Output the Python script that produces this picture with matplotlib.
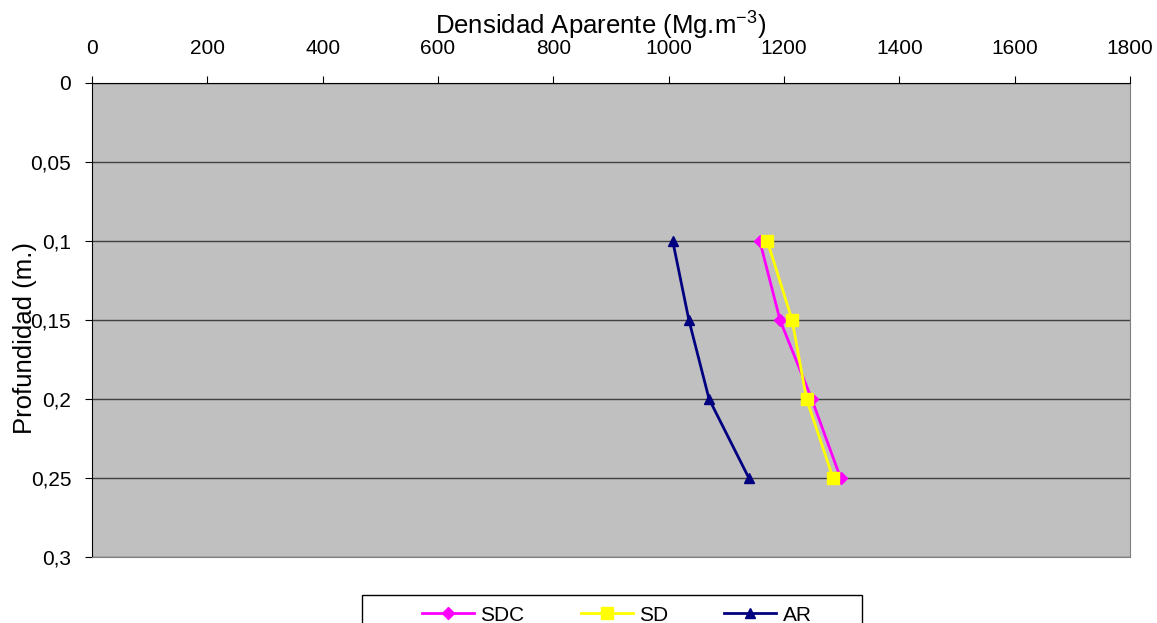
import matplotlib.pyplot as plt
from matplotlib.patches import Rectangle
from matplotlib.ticker import FuncFormatter

plt.rcParams['font.family'] = ['Liberation Sans', 'DejaVu Sans']

depth = [0.1, 0.15, 0.2, 0.25]
sdc = [1158, 1193, 1248, 1298]
sd = [1171, 1214, 1239, 1285]
ar = [1007, 1035, 1070, 1139]

fig = plt.figure(figsize=(11.57, 6.23), dpi=100)
ax = fig.add_axes([0.0795, 0.106, 0.8972, 0.7608])
ax.set_facecolor('#c0c0c0')

ax.plot(sdc, depth, color='#ff00ff', lw=2, marker='D', ms=6, label='SDC')
ax.plot(sd, depth, color='#ffff00', lw=2, marker='s', ms=8, label='SD')
ax.plot(ar, depth, color='#000080', lw=2, marker='^', ms=7, label='AR')

ax.set_xlim(0, 1800)
ax.set_ylim(0.3, 0)
ax.set_xticks(range(0, 1801, 200))
ax.set_yticks([0, 0.05, 0.1, 0.15, 0.2, 0.25, 0.3])
ax.yaxis.set_major_formatter(FuncFormatter(lambda v, p: ('%g' % round(v, 2)).replace('.', ',')))
ax.xaxis.tick_top()
ax.xaxis.set_label_position('top')
ax.tick_params(labelsize=15, length=5, direction='out', color='black')
ax.tick_params(axis='x', pad=13)
ax.tick_params(axis='y', pad=10)
ax.grid(axis='y', color='#404040', lw=1)
ax.set_axisbelow(True)

for s in ['right', 'bottom']:
    ax.spines[s].set_color('#808080')
for s in ['left', 'top']:
    ax.spines[s].set_color('black')

ax.set_xlabel(r'Densidad Aparente (Mg.m$^{\mathregular{-3}}$)', fontsize=18.5)
ax.xaxis.set_label_coords(0.49, 1.105)
ax.set_ylabel('Profundidad (m.)', fontsize=18.5)
ax.yaxis.set_label_coords(-0.053, 0.462)

# legend box (Excel style, wide and cut at the bottom edge)
fig.patches.append(Rectangle((0.3129, -0.02), 0.432, 0.0649, transform=fig.transFigure,
                             facecolor='white', edgecolor='black', lw=1))
fig.legend(loc='center', bbox_to_anchor=(0.533, 0.0128), ncol=3,
           fontsize=15, frameon=False, handlelength=2.5, columnspacing=2.7,
           handletextpad=0.3, borderaxespad=0)

fig.savefig('out.png', dpi=100)
